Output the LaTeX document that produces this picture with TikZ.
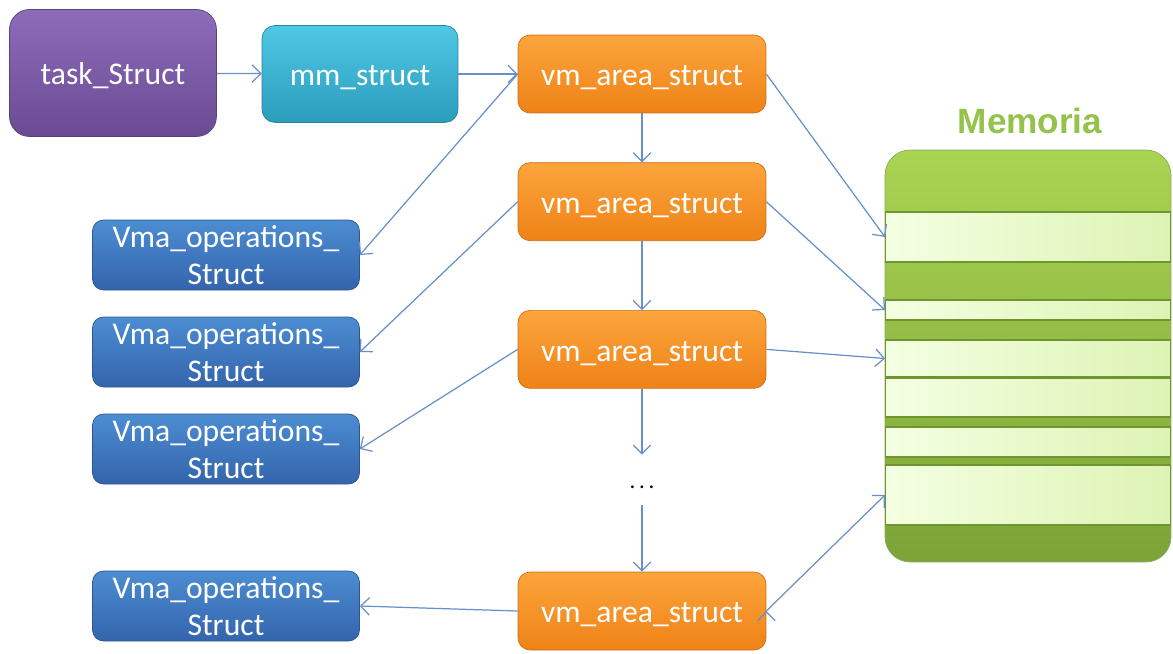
\documentclass[tikz,border=0pt]{standalone}
\usepackage{fontspec}
\setmainfont{Carlito}
\newfontfamily\titlefont{Liberation Sans}
\usepackage{xcolor}
\usetikzlibrary{positioning,arrows.meta,shapes}

\definecolor{taskTop}{HTML}{8D6CBA}
\definecolor{taskBot}{HTML}{6A4B93}
\definecolor{mmTop}{HTML}{4FC8E4}
\definecolor{mmBot}{HTML}{2C9CBD}
\definecolor{vmTop}{HTML}{FBA53C}
\definecolor{vmBot}{HTML}{EF8217}
\definecolor{opsTop}{HTML}{4C8DD2}
\definecolor{opsBot}{HTML}{3464AC}
\definecolor{memTop}{HTML}{A9D452}
\definecolor{memBot}{HTML}{7BA337}
\definecolor{memLine}{HTML}{6F9530}
\definecolor{slotLeft}{HTML}{F4FFE2}
\definecolor{slotRight}{HTML}{DDF3B4}
\definecolor{linkBlue}{HTML}{6790C8}
\definecolor{titleGreen}{HTML}{94C24A}

\begin{document}
\begin{tikzpicture}[x=0.02cm, y=-0.02cm, >={Straight Barb[length=5pt,width=10pt]},
  every node/.style={inner sep=0pt, text=white, align=center, font=\fontsize{18}{21}\selectfont},
  oneline/.style={text height=16pt, text depth=2.5pt},
  taskbox/.style={oneline, top color=taskTop, bottom color=taskBot, draw=taskBot!85!black, rounded corners=0.4cm, minimum width=4.14cm, minimum height=2.54cm},
  mmbox/.style={oneline, top color=mmTop, bottom color=mmBot, draw=mmBot!85!black, rounded corners=0.26cm, minimum width=3.92cm, minimum height=1.94cm},
  vmbox/.style={oneline, top color=vmTop, bottom color=vmBot, draw=vmBot!85!black, rounded corners=0.24cm, minimum width=4.96cm, minimum height=1.56cm},
  opsbox/.style={top color=opsTop, bottom color=opsBot, draw=opsBot!85!black, rounded corners=0.22cm, minimum width=5.34cm, minimum height=1.4cm},
  slot/.style={left color=slotLeft, right color=slotRight, draw=memLine, line width=0.6pt, minimum width=5.7cm},
  link/.style={->, draw=linkBlue, line width=0.7pt}]
\useasboundingbox (0,0) rectangle (1173,653);

\node[taskbox] (task) at (113,73) {task\_Struct};
\node[mmbox] (mm) at (360,74) {mm\_struct};

% lista de areas
\node[vmbox] (vm1) at (642,74) {vm\_area\_struct};
\node[vmbox, below=0.98cm of vm1] (vm2) {vm\_area\_struct};
\node[vmbox, below=1.38cm of vm2] (vm3) {vm\_area\_struct};
\node[text=black, font=\fontsize{13}{15}\selectfont, text height=10pt, text depth=0pt, minimum height=1cm] (dots) at (642,480) {.\,.\,.};
\node[vmbox] (vm5) at (642,611) {vm\_area\_struct};

% operaciones
\node[opsbox] (ops1) at (226,255) {Vma\_operations\_\\Struct};
\node[opsbox] (ops2) at (226,352) {Vma\_operations\_\\Struct};
\node[opsbox] (ops3) at (226,449) {Vma\_operations\_\\Struct};
\node[opsbox] (ops4) at (226,606) {Vma\_operations\_\\Struct};

% memoria
\node[text=titleGreen, font=\titlefont\bfseries\fontsize{20}{24}\selectfont] (memtitle) at (1030,121) {Memoria};
\node[top color=memTop, bottom color=memBot, draw=memLine!80, rounded corners=0.5cm, minimum width=5.72cm, minimum height=8.24cm] (mem) at (1028,356) {};
\node[slot, minimum height=1cm] (s1) at (1028,237) {};
\node[slot, minimum height=0.4cm] (s2) at (1028,310) {};
\node[slot, minimum height=0.74cm] (s3) at (1028,358.5) {};
\node[slot, minimum height=0.78cm] (s4) at (1028,397.5) {};
\node[slot, minimum height=0.6cm] (s5) at (1028,442) {};
\node[slot, minimum height=1.2cm] (s6) at (1028,495) {};

\path[link]
(task) edge (mm)
(mm) edge (vm1)
(vm1) edge (vm2)
(vm2) edge (vm3)
(vm3) edge (dots)
(dots) edge (vm5)
(vm1.west) edge (ops1.east)
(vm2.west) edge (ops2.east)
(vm3.west) edge (ops3.east)
(vm5.west) edge (ops4.east)
(vm1.east) edge (s1.west)
(vm2.east) edge (s2.west)
(vm3.east) edge (s3.west)
(vm5.east) edge (s6.west);
\end{tikzpicture}
\end{document}
